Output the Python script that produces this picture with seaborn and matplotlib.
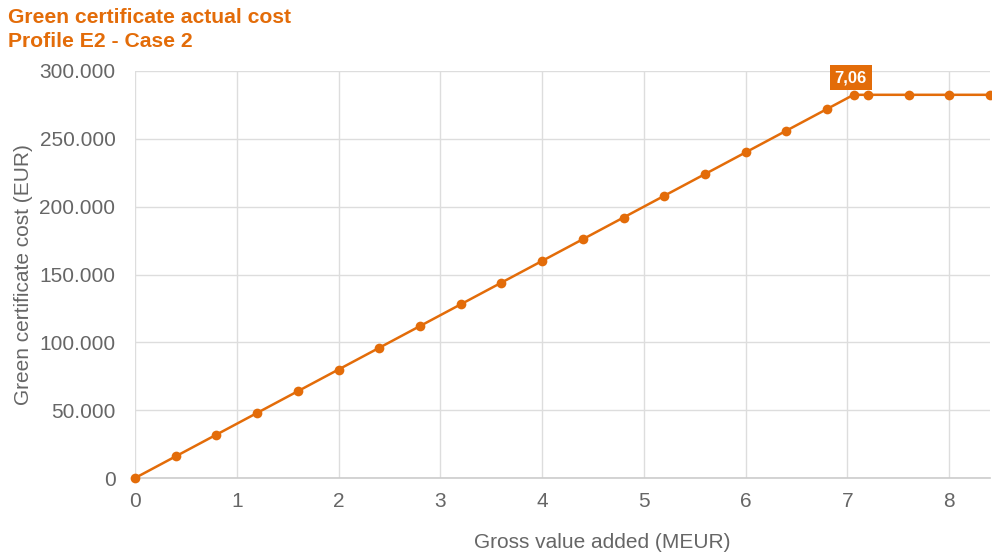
import matplotlib
matplotlib.use("Agg")
import matplotlib.pyplot as plt
import matplotlib.ticker as mticker
import seaborn as sns
import pandas as pd

# Gross value added (MEUR) and resulting green certificate cost (EUR)
gva_meur = [0.0, 0.4, 0.8, 1.2, 1.6, 2.0, 2.4, 2.8, 3.2, 3.6, 4.0, 4.4, 4.8,
            5.2, 5.6, 6.0, 6.4, 6.8, 7.06, 7.2, 7.6, 8.0, 8.4]
cost_eur = [0, 16000, 32000, 48000, 64000, 80000, 96000, 112000, 128000,
            144000, 160000, 176000, 192000, 208000, 224000, 240000, 256000,
            272000, 282400, 282400, 282400, 282400, 282400]
cap_label = "7,06"
cap_x = 7.06
cap_y = 282400
y_ticks = [0, 50000, 100000, 150000, 200000, 250000, 300000]
x_ticks = [0, 1, 2, 3, 4, 5, 6, 7, 8]

orange = "#E36C09"
tick_grey = "#666666"

sns.set_style("white")
plt.rcParams["font.family"] = ["Liberation Sans", "DejaVu Sans"]

df = pd.DataFrame({"gva": gva_meur, "cost": cost_eur})

fig = plt.figure(figsize=(9.92, 5.54), dpi=100)
ax = fig.add_axes([0.136, 0.137, 0.862, 0.735])

sns.lineplot(data=df, x="gva", y="cost", ax=ax, color=orange, linewidth=1.8,
             marker="o", markersize=7, markeredgewidth=0, clip_on=False, zorder=3)

ax.set_xlim(0, 8.4)
ax.set_ylim(0, 300000)
ax.set_xticks(x_ticks)
ax.set_yticks(y_ticks)
ax.yaxis.set_major_formatter(mticker.FuncFormatter(
    lambda v, p: f"{int(v):,}".replace(",", ".")))

ax.grid(True, color="#dddddd", linewidth=1)
ax.set_axisbelow(True)
for side in ("top", "right", "left"):
    ax.spines[side].set_visible(False)
ax.spines["bottom"].set_color("#cccccc")
ax.spines["bottom"].set_linewidth(1.2)

ax.tick_params(axis="y", length=0, labelsize=15, colors=tick_grey, pad=14)
ax.tick_params(axis="x", length=0, labelsize=15, colors=tick_grey, pad=10)
ax.set_xlabel("Gross value added (MEUR)", fontsize=15, color=tick_grey)
ax.set_ylabel("Green certificate cost (EUR)", fontsize=15, color=tick_grey)
ax.xaxis.set_label_coords(0.547, -0.135)
ax.yaxis.set_label_coords(-0.119, 0.5)

# Label marking where the cost levels off
ax.annotate(cap_label, xy=(cap_x, cap_y), xytext=(-2, 7), textcoords="offset points",
            ha="center", va="bottom", fontsize=12, fontweight="bold", color="white",
            bbox=dict(boxstyle="square,pad=0.3", fc=orange, ec="none"),
            annotation_clip=False)

fig.text(0.008, 0.968, "Green certificate actual cost", ha="left", va="center",
         fontsize=15.2, fontweight="bold", color=orange)
fig.text(0.008, 0.925, "Profile E2 - Case 2", ha="left", va="center",
         fontsize=15.2, fontweight="bold", color=orange)

fig.savefig("out.png", dpi=100)
